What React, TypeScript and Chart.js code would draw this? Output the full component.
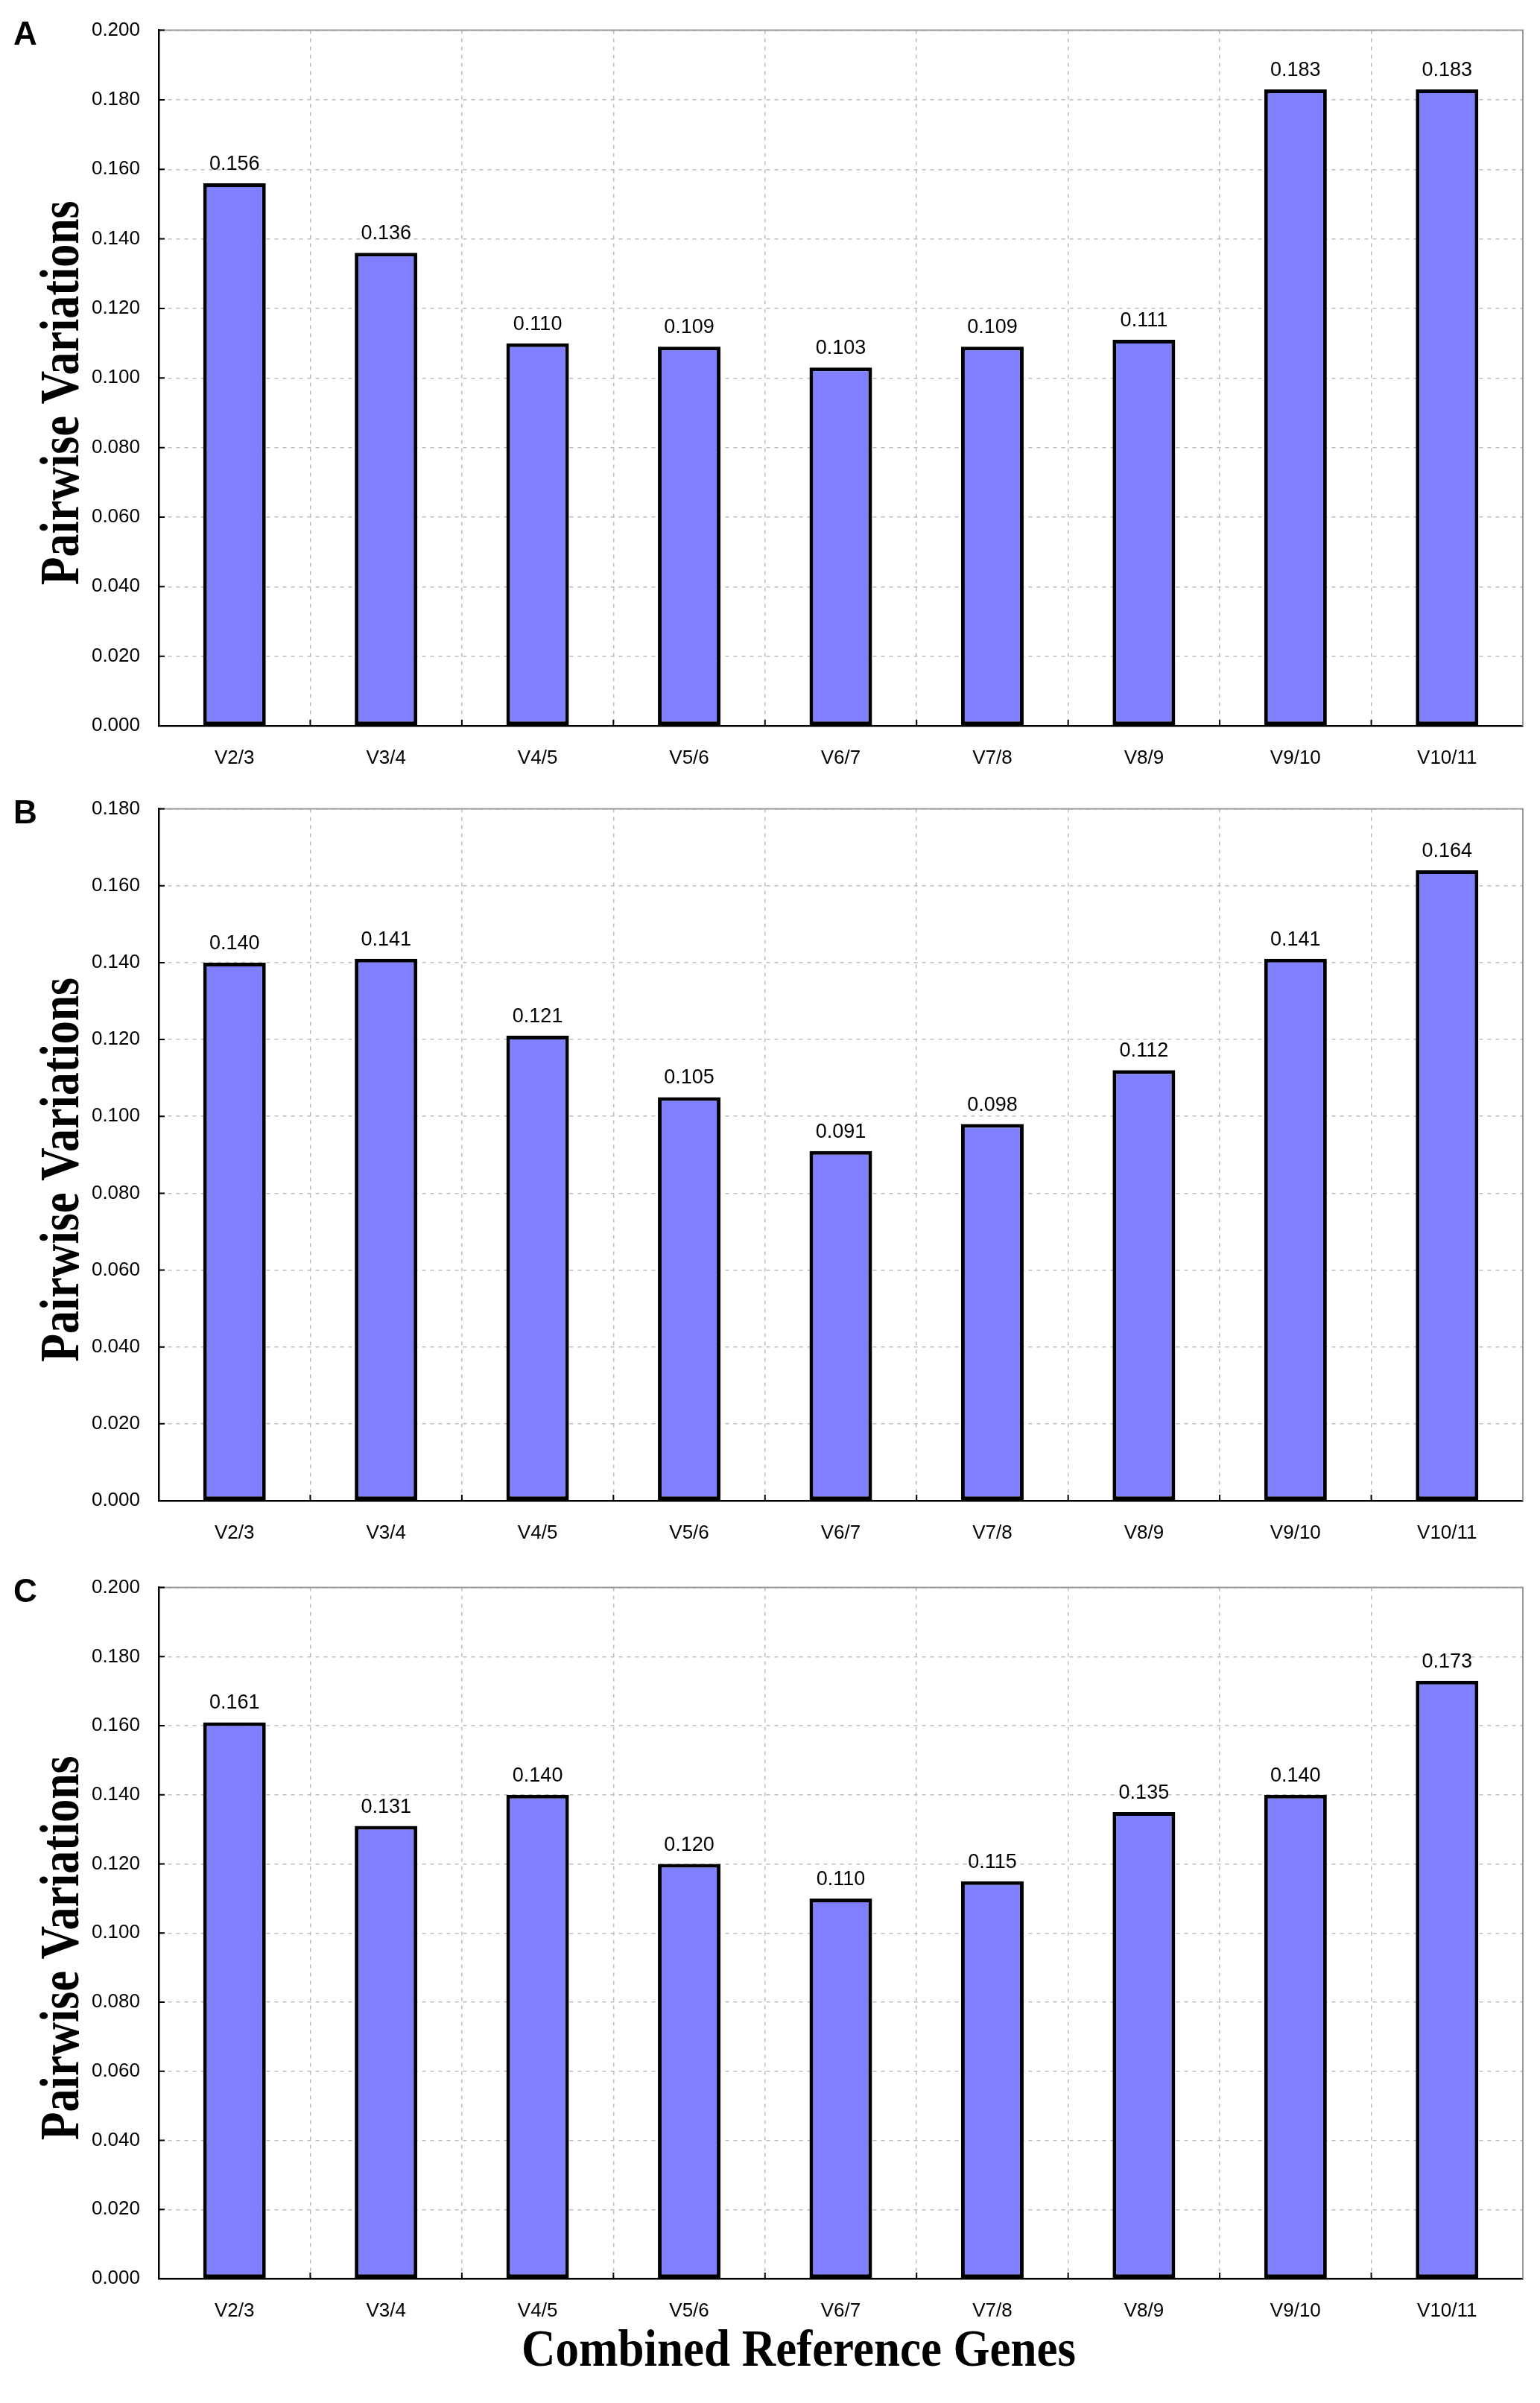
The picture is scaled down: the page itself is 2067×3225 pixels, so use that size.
import { useEffect, useRef } from "react";
import { Chart, registerables } from "chart.js";

Chart.register(...registerables);

const categories = ["V2/3", "V3/4", "V4/5", "V5/6", "V6/7", "V7/8", "V8/9", "V9/10", "V10/11"];

const valuesA = [0.156, 0.136, 0.110, 0.109, 0.103, 0.109, 0.111, 0.183, 0.183];
const valuesB = [0.140, 0.141, 0.121, 0.105, 0.091, 0.098, 0.112, 0.141, 0.164];
const valuesC = [0.161, 0.131, 0.140, 0.120, 0.110, 0.115, 0.135, 0.140, 0.173];

const yTitle = "Pairwise Variations";
const xTitle = "Combined Reference Genes";

const SANS = "'Liberation Sans', Arial, sans-serif";
const SERIF = "'Liberation Serif', 'Times New Roman', serif";

// frame, small inner tick marks, value labels, panel letter and the stretched titles
const decorations = {
    id: "decorations",
    beforeDatasetsDraw(chart: any) {
        const { ctx, chartArea, scales } = chart;
        ctx.save();
        ctx.strokeStyle = "#9a9a9a";
        ctx.lineWidth = 2;
        ctx.beginPath();
        ctx.moveTo(chartArea.left, chartArea.top);
        ctx.lineTo(chartArea.right, chartArea.top);
        ctx.lineTo(chartArea.right, chartArea.bottom);
        ctx.stroke();

        ctx.strokeStyle = "#000";
        ctx.lineWidth = 2;
        ctx.beginPath();
        scales.y.ticks.forEach((t: any) => {
            const y = scales.y.getPixelForValue(t.value);
            ctx.moveTo(chartArea.left, y);
            ctx.lineTo(chartArea.left + 8, y);
        });
        const half = (scales.x.getPixelForValue(1) - scales.x.getPixelForValue(0)) / 2;
        categories.forEach((_c, i) => {
            if (i === 0) return;
            const x = scales.x.getPixelForValue(i) - half;
            ctx.moveTo(x, chartArea.bottom);
            ctx.lineTo(x, chartArea.bottom - 8);
        });
        ctx.stroke();
        ctx.restore();
    },
    afterDatasetsDraw(chart: any, _args: any, opts: any) {
        const { ctx, chartArea } = chart;
        const values = chart.data.datasets[0].data as number[];
        const meta = chart.getDatasetMeta(0);
        ctx.save();
        ctx.fillStyle = "#000";
        ctx.font = `27px ${SANS}`;
        ctx.textAlign = "center";
        ctx.textBaseline = "alphabetic";
        meta.data.forEach((bar: any, i: number) => {
            ctx.fillText(values[i].toFixed(3), bar.x, bar.y - 18);
        });

        ctx.font = `bold 44px ${SANS}`;
        ctx.textAlign = "left";
        ctx.textBaseline = "middle";
        ctx.fillText(opts.letter, 18, chartArea.top + 7);

        // y title, rotated, glyphs a bit stretched like the original
        ctx.save();
        ctx.translate(105, (chartArea.top + chartArea.bottom) / 2 + 20);
        ctx.rotate(-Math.PI / 2);
        ctx.scale(1, 1.18);
        ctx.font = `bold 62px ${SERIF}`;
        ctx.textAlign = "center";
        ctx.textBaseline = "alphabetic";
        ctx.fillText(yTitle, 0, 0);
        ctx.restore();

        if (opts.showXTitle) {
            ctx.save();
            ctx.translate(1072, chart.height - 50);
            ctx.scale(1, 1.1);
            ctx.font = `bold 63px ${SERIF}`;
            ctx.textAlign = "center";
            ctx.textBaseline = "alphabetic";
            ctx.fillText(xTitle, 0, 0);
            ctx.restore();
        }
        ctx.restore();
    },
};

interface PanelProps {
    letter: string;
    values: number[];
    max: number;
    top: number;
    height: number;
    padTop: number;
    axisHeight: number;
    showXTitle?: boolean;
}

function Panel({ letter, values, max, top, height, padTop, axisHeight, showXTitle }: PanelProps) {
    const canvasRef = useRef<HTMLCanvasElement | null>(null);
    const chartRef = useRef<Chart | null>(null);

    useEffect(() => {
        if (!canvasRef.current) return;
        if (chartRef.current) chartRef.current.destroy();

        chartRef.current = new Chart(canvasRef.current, {
            type: "bar",
            data: {
                labels: categories,
                datasets: [
                    {
                        data: values,
                        backgroundColor: "#8080ff",
                        borderColor: "#000",
                        borderWidth: 5,
                        borderSkipped: false,
                        categoryPercentage: 1,
                        barPercentage: 0.413,
                    },
                ],
            },
            options: {
                animation: false,
                responsive: false,
                maintainAspectRatio: false,
                devicePixelRatio: 1,
                layout: { padding: { top: padTop, right: 23, left: 0, bottom: 0 } },
                plugins: {
                    legend: { display: false },
                    tooltip: { enabled: false },
                    // @ts-ignore
                    decorations: { letter, showXTitle: !!showXTitle },
                },
                scales: {
                    x: {
                        offset: true,
                        grid: { offset: true, color: "#bdbdbd", lineWidth: 1.5, drawTicks: false },
                        border: { display: true, color: "#000", width: 2.5, dash: [5, 6] },
                        ticks: { color: "#000", font: { family: SANS, size: 26 }, padding: 28, maxRotation: 0 },
                        afterFit: (scale: any) => {
                            scale.height = axisHeight;
                        },
                    },
                    y: {
                        min: 0,
                        max: max,
                        grid: { color: "#bdbdbd", lineWidth: 1.5, drawTicks: false },
                        border: { display: true, color: "#000", width: 2.5, dash: [5, 6] },
                        ticks: {
                            stepSize: 0.02,
                            color: "#000",
                            padding: 25,
                            font: { family: SANS, size: 26 },
                            callback: (v: any) => Number(v).toFixed(3),
                        },
                        afterFit: (scale: any) => {
                            scale.width = 213;
                        },
                    },
                },
            },
            plugins: [decorations as any],
        });

        return () => {
            chartRef.current?.destroy();
            chartRef.current = null;
        };
    }, []);

    return (
        <div style={{ position: "absolute", left: 0, top, width: 2067, height }}>
            <canvas ref={canvasRef} width={2067} height={height} style={{ width: 2067, height }} />
        </div>
    );
}

export default function App() {
    return (
        <div style={{ position: "absolute", left: 0, top: 0, width: 2067, height: 3225, background: "#fff" }}>
            <Panel letter="A" values={valuesA} max={0.2} top={0} height={1045} padTop={34} axisHeight={71} />
            <Panel letter="B" values={valuesB} max={0.18} top={1045} height={1045} padTop={31} axisHeight={76} />
            <Panel letter="C" values={valuesC} max={0.2} top={2090} height={1135} padTop={29} axisHeight={167} showXTitle />
        </div>
    );
}
